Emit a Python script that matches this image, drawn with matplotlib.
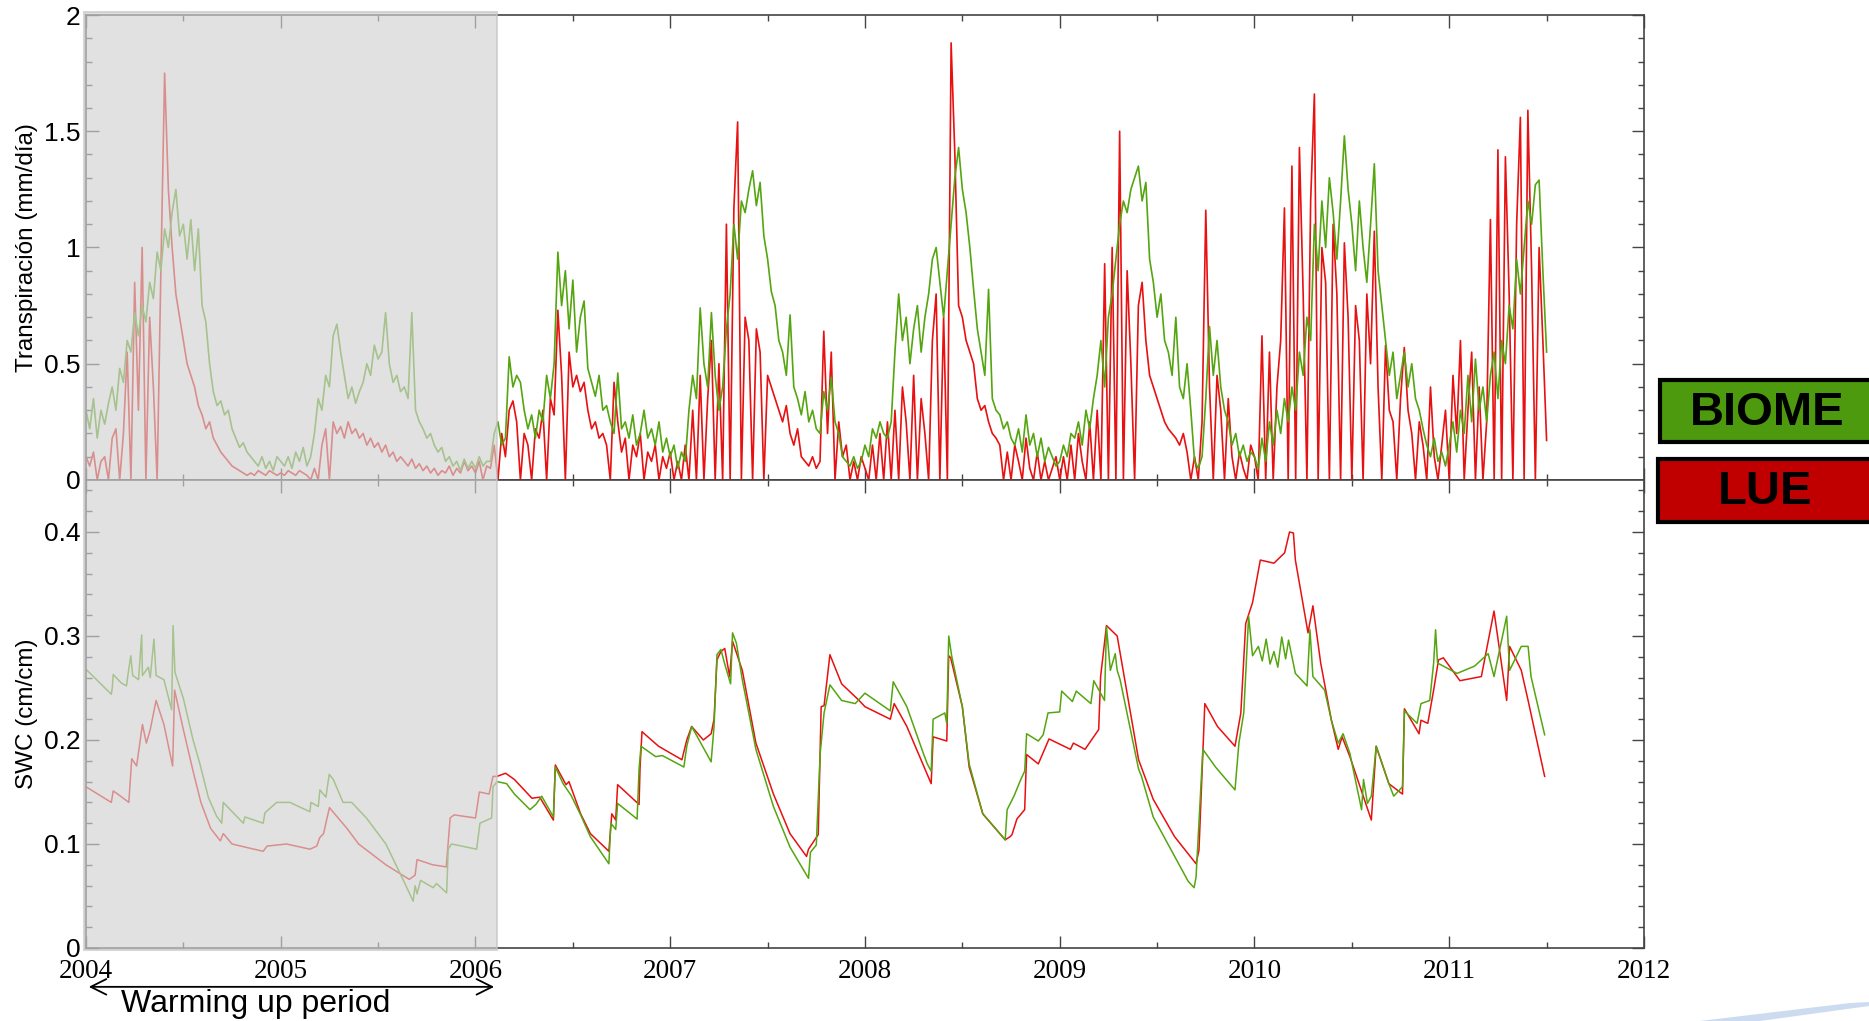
import numpy as np
import matplotlib
matplotlib.use("Agg")
import matplotlib.pyplot as plt
from matplotlib.patches import Rectangle, Polygon
from matplotlib.ticker import MultipleLocator, FormatStrFormatter

plt.rcParams['font.family'] = ['Liberation Sans', 'DejaVu Sans']

# Transpiración semanal (centésimas de mm/día), una fila por año, desde 2004.0
trans_biome = [
    30, 22, 35, 18, 30, 24, 33, 40, 30, 48, 42, 60, 55, 72, 62, 75, 68, 85, 78, 98, 90, 108, 100, 115, 125, 105,
    110, 95, 112, 90, 108, 75, 68, 50, 38, 32, 34, 28, 30, 22, 18, 14, 16, 12, 10, 8, 6, 10, 5, 8, 4, 10,  # 2004
    8, 6, 10, 5, 12, 8, 14, 6, 10, 20, 35, 30, 45, 40, 62, 67, 55, 45, 35, 40, 33, 38, 42, 50, 45, 58,
    52, 55, 72, 50, 42, 45, 38, 40, 35, 72, 30, 25, 22, 18, 20, 15, 12, 14, 8, 10, 6, 8, 4, 9, 5, 8,  # 2005
    5, 10, 6, 8, 8, 20, 25, 15, 18, 53, 40, 45, 42, 30, 22, 28, 18, 30, 25, 45, 35, 50, 98, 75, 90, 65,
    86, 55, 70, 77, 48, 42, 36, 45, 30, 32, 25, 20, 46, 22, 25, 18, 28, 15, 20, 30, 18, 22, 15, 25, 12, 18,  # 2006
    10, 15, 5, 12, 8, 30, 45, 35, 74, 50, 40, 72, 45, 30, 40, 65, 80, 110, 95, 120, 115, 125, 133, 118, 128, 105,
    95, 81, 75, 60, 55, 45, 71, 40, 35, 28, 38, 25, 30, 22, 20, 38, 30, 44, 25, 20, 10, 8, 6, 10, 5, 8,  # 2007
    15, 10, 22, 18, 25, 20, 18, 25, 55, 80, 60, 70, 50, 65, 75, 55, 70, 80, 95, 100, 85, 70, 90, 110, 130, 143,
    125, 115, 100, 82, 65, 55, 45, 82, 35, 30, 28, 22, 25, 18, 15, 22, 12, 28, 15, 20, 10, 18, 8, 14, 10, 6,  # 2008
    8, 15, 10, 20, 18, 25, 15, 30, 22, 35, 45, 60, 40, 70, 80, 95, 110, 120, 115, 125, 130, 135, 120, 128, 95, 85,
    70, 80, 60, 55, 45, 70, 40, 35, 50, 30, 8, 5, 10, 35, 66, 45, 60, 40, 30, 25, 15, 20, 10, 15, 8, 12,  # 2009
    10, 5, 18, 8, 25, 15, 30, 20, 35, 25, 40, 30, 55, 45, 70, 60, 110, 90, 120, 100, 130, 115, 95, 120, 148, 125,
    110, 90, 120, 100, 85, 110, 136, 90, 75, 60, 45, 55, 35, 45, 55, 40, 50, 35, 30, 22, 15, 10, 18, 8, 12, 6,  # 2010
    15, 25, 12, 30, 20, 45, 25, 52, 30, 40, 25, 45, 55, 35, 60, 50, 75, 65, 95, 80, 100, 120, 110, 127, 129, 90, 55,  # 2011
]
trans_lue = [
    10, 6, 12, 0, 8, 10, 0, 18, 22, 0, 20, 55, 0, 85, 30, 100, 0, 70, 40, 0, 90, 175, 125, 100, 80, 70,
    60, 50, 45, 40, 32, 28, 22, 25, 18, 15, 12, 10, 8, 6, 5, 4, 3, 2, 3, 2, 4, 3, 2, 4, 3, 2,  # 2004
    3, 2, 4, 3, 2, 4, 3, 2, 0, 5, 0, 15, 22, 0, 25, 20, 23, 18, 25, 20, 22, 18, 20, 15, 18, 14,
    16, 12, 15, 10, 12, 8, 10, 8, 6, 9, 5, 7, 4, 6, 3, 5, 2, 4, 3, 6, 2, 5, 3, 8, 4, 6,  # 2005
    3, 8, 0, 6, 5, 15, 0, 20, 10, 30, 34, 25, 0, 20, 15, 0, 22, 18, 30, 0, 35, 28, 73, 45, 0, 55,
    40, 45, 38, 42, 30, 22, 25, 18, 20, 15, 0, 42, 25, 12, 18, 0, 15, 10, 20, 0, 12, 8, 15, 0, 10, 5,  # 2006
    12, 0, 8, 0, 15, 0, 30, 0, 45, 0, 35, 60, 0, 50, 0, 110, 0, 117, 154, 0, 70, 60, 0, 65, 55, 0,
    45, 40, 35, 30, 25, 32, 20, 15, 22, 10, 8, 6, 10, 5, 8, 64, 20, 55, 0, 25, 10, 15, 0, 8, 0, 10,  # 2007
    5, 0, 15, 0, 20, 0, 25, 0, 30, 0, 40, 25, 0, 45, 0, 35, 20, 0, 60, 80, 0, 70, 0, 188, 140, 75,
    70, 60, 55, 50, 35, 30, 32, 25, 20, 18, 15, 0, 12, 0, 15, 8, 0, 18, 5, 0, 12, 0, 8, 0, 5, 10,  # 2008
    0, 10, 0, 15, 0, 20, 8, 0, 25, 0, 30, 0, 93, 0, 100, 0, 150, 0, 90, 50, 0, 75, 85, 60, 45, 40,
    35, 30, 25, 22, 20, 18, 15, 20, 12, 0, 10, 0, 25, 116, 40, 0, 45, 30, 0, 35, 10, 0, 12, 5, 0, 15,  # 2009
    10, 0, 62, 0, 55, 0, 40, 60, 117, 0, 135, 0, 143, 80, 0, 120, 166, 0, 100, 85, 0, 110, 80, 0, 102, 70,
    0, 75, 60, 0, 80, 50, 107, 40, 0, 58, 30, 25, 0, 35, 57, 30, 20, 0, 25, 15, 0, 40, 10, 0, 15, 30,  # 2010
    0, 45, 20, 60, 0, 30, 55, 0, 40, 0, 25, 112, 0, 142, 0, 139, 80, 0, 110, 156, 0, 159, 90, 0, 100, 60, 17,  # 2011
]

# SWC (cm/cm): puntos leídos (año, valor)
swc_biome_t = [
    2004.00, 2004.13, 2004.135, 2004.14, 2004.18, 2004.208, 2004.215, 2004.23, 2004.24, 2004.27, 2004.286, 2004.29,
    2004.32, 2004.33, 2004.349, 2004.36, 2004.40, 2004.44, 2004.447, 2004.457, 2004.50, 2004.55, 2004.585, 2004.628,
    2004.67, 2004.697, 2004.705, 2004.756, 2004.808, 2004.816, 2004.91, 2004.919, 2004.979, 2005.047, 2005.15, 2005.155,
    2005.193, 2005.201, 2005.232, 2005.249, 2005.27, 2005.32, 2005.364, 2005.44, 2005.54, 2005.63, 2005.68, 2005.69,
    2005.70, 2005.718, 2005.783, 2005.80, 2005.852, 2005.86, 2005.877, 2006.006, 2006.023, 2006.083, 2006.09,
    2006.111, 2006.16, 2006.20, 2006.28, 2006.31, 2006.34, 2006.40, 2006.41, 2006.45, 2006.49, 2006.54, 2006.59,
    2006.685, 2006.695, 2006.72, 2006.73, 2006.83, 2006.84, 2006.85, 2006.925, 2006.96, 2007.07, 2007.085, 2007.11,
    2007.21, 2007.225, 2007.24, 2007.26, 2007.28, 2007.31, 2007.32, 2007.34, 2007.37, 2007.44, 2007.53, 2007.615,
    2007.71, 2007.72, 2007.75, 2007.77, 2007.79, 2007.82, 2007.88, 2007.95, 2008.00, 2008.13, 2008.145, 2008.215,
    2008.30, 2008.32, 2008.34, 2008.35, 2008.41, 2008.42, 2008.43, 2008.445, 2008.50, 2008.535, 2008.605, 2008.72,
    2008.73, 2008.765, 2008.80, 2008.82, 2008.83, 2008.89, 2008.915, 2008.94, 2009.00, 2009.01, 2009.065, 2009.085,
    2009.16, 2009.175, 2009.23, 2009.24, 2009.26, 2009.285, 2009.295, 2009.31, 2009.405, 2009.42, 2009.48, 2009.59,
    2009.66, 2009.69, 2009.70, 2009.735, 2009.80, 2009.90, 2009.92, 2009.945, 2009.97, 2009.99, 2010.02, 2010.04,
    2010.06, 2010.08, 2010.10, 2010.12, 2010.14, 2010.16, 2010.175, 2010.21, 2010.27, 2010.285, 2010.30, 2010.36,
    2010.395, 2010.43, 2010.455, 2010.49, 2010.55, 2010.56, 2010.58, 2010.60, 2010.625, 2010.69, 2010.715, 2010.76,
    2010.77, 2010.835, 2010.855, 2010.90, 2010.92, 2010.93, 2010.94, 2011.04, 2011.13, 2011.20, 2011.23, 2011.295,
    2011.31, 2011.37, 2011.405, 2011.42, 2011.49,
]
swc_biome = [
    0.268, 0.244, 0.250, 0.263, 0.255, 0.252, 0.262, 0.281, 0.262, 0.258, 0.301, 0.262,
    0.270, 0.260, 0.297, 0.262, 0.258, 0.229, 0.310, 0.265, 0.240, 0.200, 0.177, 0.145,
    0.127, 0.120, 0.140, 0.130, 0.120, 0.126, 0.120, 0.130, 0.140, 0.140, 0.131, 0.140,
    0.136, 0.152, 0.145, 0.167, 0.162, 0.140, 0.140, 0.125, 0.100, 0.065, 0.045, 0.060,
    0.052, 0.065, 0.058, 0.062, 0.053, 0.095, 0.100, 0.095, 0.120, 0.125, 0.155,
    0.160, 0.158, 0.148, 0.133, 0.138, 0.146, 0.126, 0.174, 0.158, 0.147, 0.128, 0.107,
    0.081, 0.120, 0.114, 0.139, 0.124, 0.172, 0.194, 0.184, 0.185, 0.174, 0.194, 0.213,
    0.179, 0.213, 0.282, 0.287, 0.273, 0.254, 0.303, 0.293, 0.258, 0.191, 0.136, 0.097,
    0.067, 0.092, 0.099, 0.187, 0.226, 0.253, 0.238, 0.235, 0.245, 0.228, 0.256, 0.232,
    0.187, 0.177, 0.170, 0.220, 0.226, 0.216, 0.300, 0.281, 0.232, 0.177, 0.129, 0.104,
    0.133, 0.146, 0.162, 0.170, 0.206, 0.199, 0.205, 0.226, 0.227, 0.247, 0.237, 0.247,
    0.235, 0.257, 0.238, 0.309, 0.267, 0.283, 0.267, 0.258, 0.172, 0.165, 0.126, 0.088,
    0.064, 0.058, 0.068, 0.191, 0.174, 0.152, 0.197, 0.226, 0.319, 0.281, 0.290, 0.276,
    0.297, 0.273, 0.285, 0.270, 0.299, 0.278, 0.296, 0.264, 0.252, 0.306, 0.261, 0.248,
    0.219, 0.197, 0.206, 0.187, 0.133, 0.162, 0.139, 0.146, 0.194, 0.158, 0.146, 0.155,
    0.228, 0.216, 0.235, 0.238, 0.274, 0.306, 0.274, 0.264, 0.271, 0.283, 0.261, 0.319,
    0.267, 0.290, 0.290, 0.261, 0.205,
]
swc_lue_t = [
    2004.00, 2004.13, 2004.14, 2004.17, 2004.22, 2004.235, 2004.26, 2004.29, 2004.31, 2004.33, 2004.36, 2004.40,
    2004.445, 2004.455, 2004.50, 2004.55, 2004.59, 2004.64, 2004.69, 2004.705, 2004.75, 2004.84, 2004.91, 2004.93,
    2005.03, 2005.15, 2005.185, 2005.20, 2005.22, 2005.25, 2005.34, 2005.40, 2005.54, 2005.66, 2005.69, 2005.70,
    2005.78, 2005.85, 2005.87, 2005.89, 2006.00, 2006.02, 2006.07, 2006.09,
    2006.11, 2006.155, 2006.20, 2006.29, 2006.33, 2006.40, 2006.41, 2006.465, 2006.48, 2006.54, 2006.59, 2006.685,
    2006.70, 2006.72, 2006.73, 2006.84, 2006.845, 2006.855, 2006.94, 2007.06, 2007.085, 2007.11, 2007.17, 2007.21,
    2007.225, 2007.24, 2007.26, 2007.28, 2007.305, 2007.32, 2007.37, 2007.44, 2007.53, 2007.615, 2007.70, 2007.71,
    2007.76, 2007.775, 2007.79, 2007.82, 2007.88, 2007.97, 2008.00, 2008.13, 2008.15, 2008.215, 2008.34, 2008.35,
    2008.42, 2008.43, 2008.44, 2008.50, 2008.535, 2008.605, 2008.72, 2008.745, 2008.755, 2008.78, 2008.82, 2008.83,
    2008.89, 2008.945, 2009.055, 2009.07, 2009.13, 2009.20, 2009.21, 2009.24, 2009.295, 2009.405, 2009.48, 2009.59,
    2009.70, 2009.715, 2009.745, 2009.81, 2009.90, 2009.93, 2009.955, 2009.99, 2010.03, 2010.10, 2010.155, 2010.18,
    2010.20, 2010.21, 2010.275, 2010.30, 2010.34, 2010.395, 2010.43, 2010.45, 2010.49, 2010.60, 2010.625, 2010.69,
    2010.76, 2010.77, 2010.845, 2010.855, 2010.89, 2010.92, 2010.945, 2010.97, 2011.055, 2011.165, 2011.23, 2011.295,
    2011.31, 2011.37, 2011.405, 2011.49,
]
swc_lue = [
    0.155, 0.140, 0.151, 0.147, 0.140, 0.182, 0.175, 0.215, 0.197, 0.210, 0.238, 0.215,
    0.175, 0.248, 0.210, 0.170, 0.140, 0.115, 0.103, 0.110, 0.100, 0.096, 0.093, 0.098,
    0.100, 0.095, 0.098, 0.106, 0.110, 0.135, 0.115, 0.100, 0.080, 0.066, 0.070, 0.085,
    0.080, 0.078, 0.125, 0.128, 0.125, 0.150, 0.148, 0.165,
    0.165, 0.168, 0.162, 0.144, 0.145, 0.123, 0.176, 0.157, 0.160, 0.129, 0.110, 0.093,
    0.129, 0.123, 0.157, 0.138, 0.173, 0.208, 0.194, 0.181, 0.200, 0.213, 0.200, 0.206,
    0.220, 0.277, 0.285, 0.288, 0.261, 0.295, 0.267, 0.197, 0.148, 0.110, 0.088, 0.095,
    0.109, 0.232, 0.233, 0.282, 0.254, 0.238, 0.232, 0.220, 0.235, 0.213, 0.158, 0.203,
    0.199, 0.281, 0.279, 0.232, 0.174, 0.129, 0.104, 0.107, 0.109, 0.124, 0.133, 0.186,
    0.177, 0.201, 0.191, 0.197, 0.191, 0.210, 0.261, 0.310, 0.300, 0.181, 0.143, 0.107,
    0.081, 0.094, 0.235, 0.213, 0.194, 0.226, 0.312, 0.332, 0.373, 0.370, 0.380, 0.400,
    0.399, 0.373, 0.303, 0.329, 0.274, 0.219, 0.191, 0.203, 0.184, 0.123, 0.194, 0.158,
    0.148, 0.230, 0.206, 0.219, 0.216, 0.248, 0.277, 0.279, 0.257, 0.261, 0.324, 0.238,
    0.290, 0.267, 0.238, 0.165,
]

year_ticks = [2004, 2005, 2006, 2007, 2008, 2009, 2010, 2011, 2012]
warmup_end = 2006.11

GREEN = '#55a510'
RED = '#e81010'

weeks = 2004 + np.arange(len(trans_biome)) / 52.0
biome = np.array(trans_biome) / 100.0
lue = np.array(trans_lue) / 100.0

fig = plt.figure(figsize=(18.69, 10.21), dpi=100)
ax1 = fig.add_axes([0.0460, 0.5299, 0.8336, 0.4554])
ax2 = fig.add_axes([0.0460, 0.0715, 0.8336, 0.4584])

ax1.plot(weeks, lue, color=RED, lw=1.2)
ax1.plot(weeks, biome, color=GREEN, lw=1.2)
ax2.plot(swc_lue_t, swc_lue, color=RED, lw=1.1)
ax2.plot(swc_biome_t, swc_biome, color=GREEN, lw=1.1)

ax1.set_ylim(0, 2)
ax2.set_ylim(0, 0.45)
for ax in (ax1, ax2):
    ax.set_xlim(2004, 2012)
    ax.set_xticks(year_ticks)
    ax.xaxis.set_minor_locator(MultipleLocator(0.5))
    ax.tick_params(which='both', direction='in', top=True, right=True, color='#444444', width=1)
    ax.tick_params(which='major', length=9, labelsize=19, pad=4)
    ax.tick_params(which='minor', length=4.5)
    for s in ax.spines.values():
        s.set_color('#444444')
        s.set_linewidth(1.2)
    ax.yaxis.set_major_formatter(FormatStrFormatter('%g'))

ax1.set_yticks([0, 0.5, 1, 1.5, 2])
ax1.yaxis.set_minor_locator(MultipleLocator(0.1))
ax1.tick_params(axis='x', labelbottom=False)
ax2.set_yticks([0, 0.1, 0.2, 0.3, 0.4])
ax2.yaxis.set_minor_locator(MultipleLocator(0.02))
ax2.tick_params(axis='x', pad=8)
for lab in ax2.get_xticklabels():
    lab.set_family(['Liberation Serif', 'DejaVu Serif'])
    lab.set_fontsize(19.5)

ax1.set_ylabel('Transpiración (mm/día)', fontsize=17.5)
ax2.set_ylabel('SWC (cm/cm)', fontsize=17.5)
ax1.yaxis.set_label_coords(-0.031, 0.5)
ax2.yaxis.set_label_coords(-0.031, 0.5)

# periodo de calentamiento sombreado
fig.add_artist(Rectangle((84 / 1869, 1 - 950 / 1021), 413 / 1869, 938 / 1021,
                         transform=fig.transFigure, facecolor='#d2d2d2', alpha=0.65,
                         edgecolor='#c4c4c4', lw=1.5, zorder=10))

ax2.annotate('', xy=(2004, -0.083), xytext=(warmup_end, -0.083),
             xycoords=ax2.get_xaxis_transform(), textcoords=ax2.get_xaxis_transform(),
             arrowprops=dict(arrowstyle='<->', color='black', lw=1.3, mutation_scale=28),
             annotation_clip=False)
ax2.text(2004.873, -0.137, 'Warming up period', transform=ax2.get_xaxis_transform(),
         ha='center', va='baseline', fontsize=23)

# leyenda en cajas
fig.add_artist(Rectangle((1660 / 1869, 1 - 442 / 1021), 0.12, 62 / 1021, transform=fig.transFigure,
                         facecolor='#4e9a0f', edgecolor='black', lw=3, zorder=11))
fig.add_artist(Rectangle((1658 / 1869, 1 - 522 / 1021), 0.12, 63 / 1021, transform=fig.transFigure,
                         facecolor='#c00000', edgecolor='black', lw=3, zorder=11))
fig.text(1767 / 1869, 1 - 413 / 1021, 'BIOME', fontsize=34, fontweight='bold',
         ha='center', va='center', zorder=12)
fig.text(1765 / 1869, 1 - 492 / 1021, 'LUE', fontsize=34, fontweight='bold',
         ha='center', va='center', zorder=12)

# trazo decorativo azul de la diapositiva
swoosh = [(1700, 1021), (1850, 1003), (1869, 1002), (1869, 1006), (1760, 1021)]
fig.add_artist(Polygon([(x / 1869, 1 - y / 1021) for x, y in swoosh], closed=True,
                       transform=fig.transFigure, facecolor='#cddbf1', edgecolor='none'))

fig.savefig('out.png', dpi=100)
